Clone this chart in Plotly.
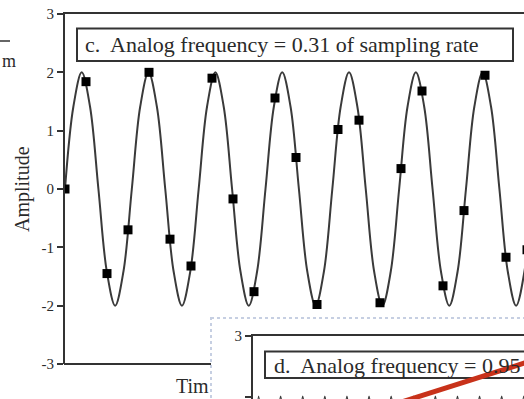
import plotly.graph_objects as go

# ---------------- data ----------------
# panel c: analog sine (key points along the curve, in sample units)
curve_c_x = [0.000, 0.398, 0.796, 1.193, 1.591, 1.989, 2.387, 2.785, 3.182, 3.580,
             3.978, 4.376, 4.774, 5.171, 5.569, 5.967, 6.365, 6.763, 7.160, 7.558,
             7.956, 8.354, 8.752, 9.149, 9.547, 9.945, 10.343, 10.741, 11.138, 11.536,
             11.934, 12.332, 12.730, 13.127, 13.525, 13.923, 14.321, 14.719, 15.116, 15.514,
             15.912, 16.310, 16.708, 17.105, 17.503, 17.901, 18.299, 18.697, 19.094, 19.492,
             19.890, 20.288, 20.686, 21.083, 21.481, 21.879, 22.277, 22.675]
curve_c_y = [0, 1.41, 2, 1.41, 0, -1.41, -2, -1.41,
             0, 1.41, 2, 1.41, 0, -1.41, -2, -1.41,
             0, 1.41, 2, 1.41, 0, -1.41, -2, -1.41,
             0, 1.41, 2, 1.41, 0, -1.41, -2, -1.41,
             0, 1.41, 2, 1.41, 0, -1.41, -2, -1.41,
             0, 1.41, 2, 1.41, 0, -1.41, -2, -1.41,
             0, 1.41, 2, 1.41, 0, -1.41, -2, -1.41,
             0, 1.41]

# panel c: samples
sample_n = [0, 1, 2, 3, 4, 5, 6, 7, 8, 9, 10, 11, 12, 13, 14, 15, 16, 17, 18, 19, 20, 21, 22]
sample_y = [0.0, 1.84, -1.45, -0.70, 2.00, -0.86, -1.32, 1.90, -0.17, -1.76, 1.56, 0.54,
            -1.98, 1.02, 1.18, -1.95, 0.35, 1.68, -1.66, -0.37, 1.95, -1.17, -1.04]

# panel d: analog sine (only its crests reach into view)
curve_d_x = [0.000, 0.263, 0.526, 0.790, 1.053, 1.316, 1.579, 1.842, 2.105, 2.368,
             2.632, 2.895, 3.158, 3.421, 3.684, 3.947, 4.211, 4.474, 4.737, 5.000,
             5.263, 5.526, 5.789, 6.053, 6.316, 6.579, 6.842, 7.105, 7.368, 7.632,
             7.895, 8.158, 8.421, 8.684, 8.947, 9.211, 9.474, 9.737, 10.000, 10.263,
             10.526, 10.789, 11.053, 11.316, 11.579, 11.842, 12.105, 12.368, 12.632, 12.895,
             13.158]
curve_d_y = [0, 2, 0, -2, 0, 2, 0, -2, 0, 2,
             0, -2, 0, 2, 0, -2, 0, 2, 0, -2,
             0, 2, 0, -2, 0, 2, 0, -2, 0, 2,
             0, -2, 0, 2, 0, -2, 0, 2, 0, -2,
             0, 2, 0, -2, 0, 2, 0, -2, 0, 2,
             0]

# red overlay line on panel d
red_x = [6.9, 13.3]
red_y = [1.89, 2.593]

y_ticks_c = [-3, -2, -1, 0, 1, 2, 3]
y_text_c = ["-3", "-2", "-1", "0", "1", "2", "3"]
y_ticks_d = [2, 3]
y_text_d = ["2", "3"]

title_c = "c.\u00a0 Analog frequency = 0.31 of sampling rate"
title_d = "d.\u00a0 Analog frequency = 0.95"

# ---------------- layout helpers ----------------
W, H = 524, 399
def px(x):
    return x / W
def py(y):
    return 1 - y / H

SERIF = "Liberation Serif, Times New Roman, serif"
INK = "#2a2a2a"

fig = go.Figure()

fig.add_trace(go.Scatter(x=curve_c_x, y=curve_c_y, mode="lines",
                         line=dict(color="#3a3a3a", width=2, shape="spline"),
                         xaxis="x", yaxis="y", hoverinfo="skip", showlegend=False))
fig.add_trace(go.Scatter(x=sample_n, y=sample_y, mode="markers",
                         marker=dict(symbol="square", size=9, color="#000000"),
                         xaxis="x", yaxis="y", showlegend=False))
fig.add_trace(go.Scatter(x=curve_d_x, y=curve_d_y, mode="lines",
                         line=dict(color="#3a3a3a", width=2, shape="spline"),
                         xaxis="x2", yaxis="y2", hoverinfo="skip", showlegend=False))
fig.add_trace(go.Scatter(x=red_x, y=red_y, mode="lines",
                         line=dict(color="#c8321a", width=5),
                         xaxis="x2", yaxis="y2", showlegend=False))

axis_common = dict(showgrid=False, zeroline=False, automargin=False, fixedrange=True)

fig.update_layout(
    width=W, height=H,
    margin=dict(l=0, r=0, t=0, b=0, pad=0),
    paper_bgcolor="white",
    plot_bgcolor="rgba(0,0,0,0)",
    showlegend=False,
    xaxis=dict(domain=[px(65), 1], range=[0, 459 / 21], side="top", anchor="y",
               showline=True, linecolor="#333", linewidth=2,
               showticklabels=False, ticks="", **axis_common),
    yaxis=dict(domain=[py(364), py(14)], range=[-3, 3], anchor="x",
               showline=True, linecolor="#333", linewidth=2,
               ticks="outside", ticklen=6, tickwidth=1.5, tickcolor="#333",
               tickvals=y_ticks_c, ticktext=y_text_c,
               tickfont=dict(family=SERIF, size=15, color=INK), **axis_common),
    xaxis2=dict(domain=[px(253), 1], range=[0, 271 / 21], side="top", anchor="y2",
                showline=True, linecolor="#333", linewidth=2,
                showticklabels=False, ticks="", **axis_common),
    yaxis2=dict(domain=[0, py(336)], range=[3 - 63 / 60.5, 3], anchor="x2",
                showline=True, linecolor="#333", linewidth=2,
                ticks="outside", ticklen=6, tickwidth=1.5, tickcolor="#333",
                tickvals=y_ticks_d, ticktext=y_text_d,
                tickfont=dict(family=SERIF, size=15, color=INK), **axis_common),
)

shapes = [
    # panel holding plot d
    dict(type="rect", xref="paper", yref="paper", x0=px(211), x1=px(540), y0=py(318), y1=py(410),
         line=dict(color="#c6cfe2", width=2, dash="dot"), fillcolor="white", layer="below"),
    # box of title d
    dict(type="rect", xref="paper", yref="paper", x0=px(265), x1=px(560), y0=py(378), y1=py(351.5),
         line=dict(color="#333", width=2), fillcolor="white", layer="below"),
    # bottom axis line of plot c (rest hidden by panel d)
    dict(type="line", xref="paper", yref="paper", x0=px(64), x1=px(211), y0=py(364), y1=py(364),
         line=dict(color="#333", width=2)),
    # box of title c
    dict(type="rect", xref="paper", yref="paper", x0=px(77), x1=px(513), y0=py(61), y1=py(28.5),
         line=dict(color="#333", width=2), fillcolor="rgba(0,0,0,0)", layer="above"),
    # fragment of neighbouring figure on the left
    dict(type="line", xref="paper", yref="paper", x0=0, x1=px(10), y0=py(41), y1=py(41),
         line=dict(color="#333", width=1.5)),
]
fig.update_layout(shapes=shapes)

ann = [
    dict(text=title_c, x=px(83), y=py(45), xanchor="left", yanchor="middle",
         font=dict(family=SERIF, size=22, color=INK)),
    dict(text=title_d, x=px(272), y=py(365), xanchor="left", yanchor="middle",
         font=dict(family=SERIF, size=22, color=INK)),
    dict(text="Amplitude", x=px(23), y=py(189), textangle=-90, xanchor="center", yanchor="middle",
         font=dict(family=SERIF, size=20, color=INK)),
    dict(text="Tim", x=px(211), y=py(386), xanchor="right", yanchor="middle",
         font=dict(family=SERIF, size=20, color=INK)),
    dict(text="m", x=0, y=py(61), xanchor="left", yanchor="middle",
         font=dict(family=SERIF, size=18, color=INK)),
]
for a in ann:
    a.update(xref="paper", yref="paper", showarrow=False)
fig.update_layout(annotations=ann)

fig.write_html("out.html")
